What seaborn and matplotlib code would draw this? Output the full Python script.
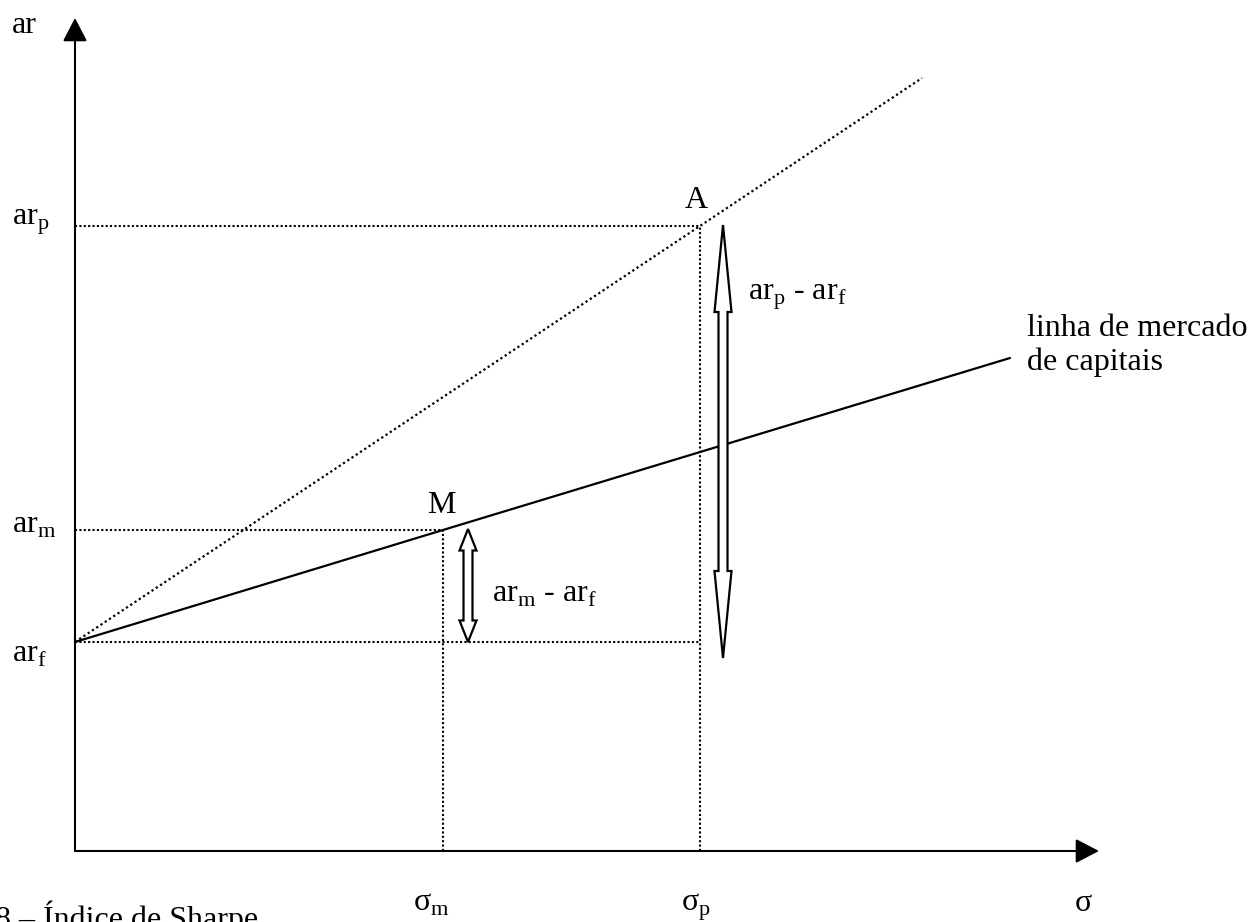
"""
Índice de Sharpe: linha de mercado de capitais e carteira A.
"""

import matplotlib
matplotlib.use("Agg")
import matplotlib.pyplot as plt
from matplotlib.patches import Polygon
import seaborn as sns

# valores (unidades arbitrárias, origem no cruzamento dos eixos)
sigma_m = 3.68
sigma_p = 6.25
ar_f = 2.09
ar_m = 3.21
ar_p = 6.25

# linha de mercado de capitais: ar_f -> M -> fim
cml_sigma = [0.0, sigma_m, 9.35]
cml_ar = [ar_f, ar_m, 4.93]

# reta pontilhada que passa por A
a_sigma = [0.0, sigma_p, 8.47]
a_ar = [ar_f, ar_p, 7.73]

# extremos dos eixos
sigma_max = 10.24
ar_max = 8.33

# setas duplas (x, topo, base)
big_arrow = (6.48, 6.26, 1.93)
small_arrow = (3.93, ar_m + 0.01, ar_f)

sns.set_theme(style="white")
plt.rcParams["font.family"] = ["Liberation Serif", "DejaVu Serif"]
plt.rcParams["mathtext.fontset"] = "custom"
plt.rcParams["mathtext.rm"] = "Liberation Serif"

FS = 23
DOT = (0, (1, 1.1))


def double_arrow(ax, x, y0, y1, head_len, head_w=0.085, shaft_w=0.045):
    """Seta dupla vazada vertical (y0 em cima, y1 embaixo)."""
    pts = [
        (x, y0),
        (x + head_w, y0 - head_len),
        (x + shaft_w, y0 - head_len),
        (x + shaft_w, y1 + head_len),
        (x + head_w, y1 + head_len),
        (x, y1),
        (x - head_w, y1 + head_len),
        (x - shaft_w, y1 + head_len),
        (x - shaft_w, y0 - head_len),
        (x - head_w, y0 - head_len),
    ]
    ax.add_patch(Polygon(pts, closed=True, fc="white", ec="black", lw=1.6, zorder=4))


fig = plt.figure(figsize=(12.52, 9.22), dpi=100)
ax = fig.add_axes([0, 0, 1, 1])
ax.set_xlim(-0.75, 11.77)
ax.set_ylim(-0.71, 8.51)
ax.axis("off")

# eixos com pontas de seta
arrow_kw = dict(arrowstyle="-|>,head_length=1.0,head_width=0.52", mutation_scale=14.4,
                lw=1.5, color="black", shrinkA=0, shrinkB=0)
ax.annotate("", xy=(0, ar_max), xytext=(0, 0), arrowprops=arrow_kw)
ax.annotate("", xy=(sigma_max, 0), xytext=(0, 0), arrowprops=arrow_kw)

# linhas de referência pontilhadas
guide = dict(colors="black", linestyles=DOT, lw=1.5)
ax.hlines(ar_p, 0, sigma_p, **guide)
ax.hlines(ar_m, 0, sigma_m, **guide)
ax.hlines(ar_f, 0, sigma_p, **guide)
ax.vlines(sigma_m, 0, ar_m, **guide)
ax.vlines(sigma_p, 0, ar_p, **guide)

# linhas principais
sns.lineplot(x=a_sigma, y=a_ar, ax=ax, color="black", lw=1.6, linestyle=(0, (1, 1.3)))
sns.lineplot(x=cml_sigma, y=cml_ar, ax=ax, color="black", lw=1.6)

# setas duplas
double_arrow(ax, *big_arrow, head_len=0.87)
double_arrow(ax, *small_arrow, head_len=0.215)

txt = dict(fontsize=FS, ha="left", va="baseline", color="black")

# rótulos do eixo vertical
ax.text(-0.63, 8.18, "ar", **txt)
ax.text(-0.63, ar_p + 0.01, r"ar$_\mathrm{p}$", **txt)
ax.text(-0.63, ar_m - 0.03, r"ar$_\mathrm{m}$", **txt)
ax.text(-0.63, ar_f - 0.20, r"ar$_\mathrm{f}$", **txt)

# rótulos do eixo horizontal
ax.text(sigma_m - 0.30, -0.60, r"σ$_\mathrm{m}$", **txt)
ax.text(sigma_p - 0.19, -0.60, r"σ$_\mathrm{p}$", **txt)
ax.text(10.0, -0.60, "σ", **txt)

# pontos e anotações
ax.text(sigma_p - 0.15, ar_p + 0.18, "A", **txt)
ax.text(sigma_m - 0.16, ar_m + 0.17, "M", **txt)
ax.text(4.17, 2.49, r"ar$_\mathrm{m}$ - ar$_\mathrm{f}$", **txt)
ax.text(6.73, 5.51, r"ar$_\mathrm{p}$ - ar$_\mathrm{f}$", **txt)
ax.text(9.52, 5.15, "linha de mercado", **txt)
ax.text(9.52, 4.81, "de capitais", **txt)

# legenda (cortada na borda inferior, como no original)
ax.text(-0.80, -0.77, "8 – Índice de Sharpe", **txt)

fig.savefig("out.png", dpi=100)
